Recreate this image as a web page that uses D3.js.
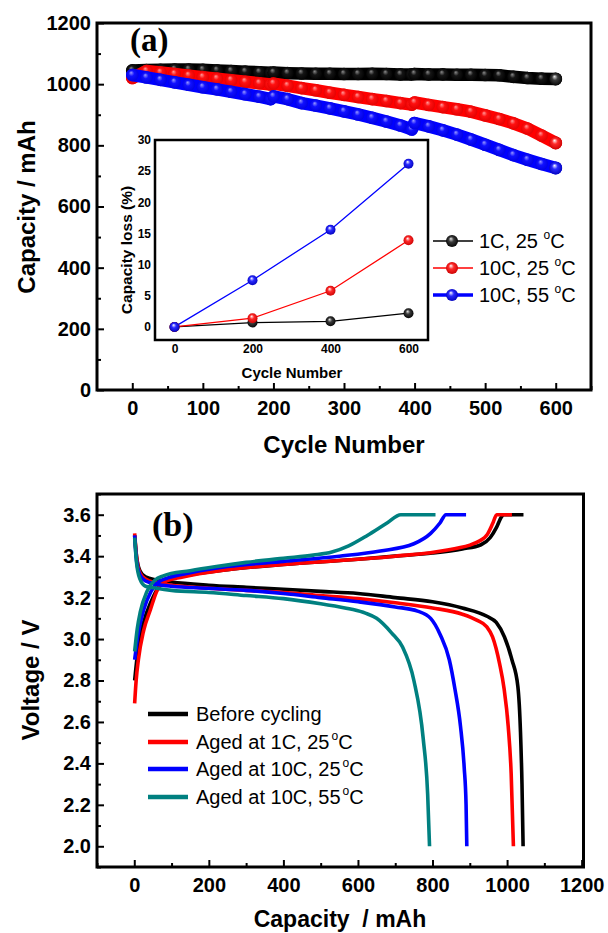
<!DOCTYPE html>
<html>
<head>
<meta charset="utf-8">
<script src="https://cdn.jsdelivr.net/npm/d3@7"></script>
<style>
  body { margin: 0; background: #fff; }
  svg { display: block; }
  text { font-family: Arial, "Liberation Sans", sans-serif; }
</style>
</head>
<body>
<div id="chart"></div>
<script>
// ---- panel (a) : capacity vs cycle number ----
var cycles = [0,20,40,60,80,100,120,140,160,180,196,200,220,240,260,280,300,320,340,360,380,396,400,420,440,460,480,500,520,540,560,580,600];
var cap1C25  = [1045,1046,1047,1048,1048,1047,1045,1043,1041,1039,1037,1038,1036,1035,1034,1034,1033,1033,1034,1033,1032,1032,1033,1032,1032,1031,1031,1030,1029,1024,1020,1018,1017];
var cap10C25 = [1020,1043,1038,1033,1028,1023,1018,1013,1008,1003,999,1002,995,987,980,972,965,958,951,945,938,933,940,932,925,918,910,898,886,872,855,832,808];
var cap10C55 = [1030,1022,1014,1006,998,990,983,975,967,959,951,960,951,938,930,921,911,901,890,878,865,852,873,862,849,835,819,802,785,768,753,739,726];

// inset : capacity loss (%)
var lossCycles = [0,200,400,600];
var loss1C25  = [0,0.7,0.9,2.2];
var loss10C25 = [0,1.4,5.8,13.9];
var loss10C55 = [0,7.5,15.6,26.2];

var legendA = ["1C, 25", "10C, 25", "10C, 55"];

// ---- panel (b) : voltage vs capacity, [capacity mAh, voltage V] ----
var chgBefore  = [[1,2.80],[10,2.95],[25,3.08],[45,3.18],[65,3.25],[90,3.285],[150,3.31],[250,3.335],[400,3.36],[600,3.385],[700,3.40],[800,3.415],[880,3.435],[930,3.455],[955,3.49],[972,3.54],[985,3.59],[992,3.60],[1044,3.60]];
var chgAged1C  = [[1,2.69],[5,2.80],[11,2.90],[25,3.04],[43,3.14],[60,3.23],[80,3.275],[130,3.30],[250,3.335],[400,3.36],[600,3.385],[700,3.40],[840,3.43],[910,3.46],[945,3.50],[962,3.56],[972,3.60],[1013,3.60]];
var chgAged10C25 = [[1,2.90],[10,3.02],[25,3.14],[45,3.23],[65,3.275],[90,3.295],[150,3.32],[250,3.35],[400,3.375],[550,3.40],[660,3.425],[750,3.46],[795,3.51],[820,3.56],[836,3.60],[890,3.60]];
var chgAged10C55 = [[1,2.94],[8,3.05],[16,3.13],[34,3.23],[56,3.285],[78,3.305],[150,3.33],[220,3.35],[300,3.37],[400,3.39],[480,3.405],[530,3.42],[575,3.45],[625,3.50],[678,3.56],[715,3.60],[808,3.60]];

var dchgBefore = [[1,3.50],[6,3.40],[15,3.33],[30,3.30],[60,3.285],[100,3.275],[200,3.26],[300,3.25],[400,3.24],[500,3.23],[600,3.22],[700,3.20],[800,3.18],[880,3.15],[946,3.11],[971,3.08],[993,3.01],[1013,2.90],[1029,2.77],[1036,2.55],[1040,2.30],[1043,2.00]];
var dchgAged1C = [[1,3.51],[6,3.40],[15,3.32],[30,3.29],[60,3.27],[100,3.26],[200,3.245],[300,3.235],[400,3.225],[500,3.21],[600,3.195],[700,3.175],[800,3.15],[880,3.12],[920,3.09],[945,3.06],[961,3.01],[980,2.88],[992,2.76],[1003,2.58],[1011,2.35],[1017,2.00]];
var dchgAged10C25 = [[1,3.50],[6,3.38],[15,3.31],[30,3.28],[60,3.265],[100,3.255],[200,3.245],[300,3.235],[400,3.22],[500,3.20],[600,3.18],[700,3.155],[760,3.135],[795,3.10],[821,3.02],[845,2.90],[860,2.76],[875,2.58],[885,2.38],[890,2.20],[892,2.00]];
var dchgAged10C55 = [[1,3.49],[6,3.37],[15,3.29],[30,3.255],[60,3.245],[100,3.235],[200,3.225],[300,3.21],[400,3.195],[500,3.17],[580,3.145],[620,3.125],[650,3.10],[690,3.03],[720,2.96],[750,2.80],[775,2.52],[787,2.25],[792,2.00]];

var legendB = ["Before cycling", "Aged at 1C, 25", "Aged at 10C, 25", "Aged at 10C, 55"];

var colA = ["#000000", "#ff0000", "#0000ff"];
var colB = ["#000000", "#ff0000", "#0000ff", "#008080"];

var svg = d3.select("#chart").append("svg")
  .attr("width", 608).attr("height", 933);

// sphere look for the markers (strong one for inset/legend, soft one for the dense bands)
var defs = svg.append("defs");
var balls = [
  ["bk", "#e8e8e8", "#3a3a3a", "#000"], ["rd", "#ffffff", "#ff2a2a", "#c80000"], ["bl", "#ffffff", "#2a2aff", "#0000b8"],
  ["bk-s", "#8a8a8a", "#151515", "#000"], ["rd-s", "#ff9a9a", "#ff1010", "#e00000"], ["bl-s", "#9a9aff", "#1010ff", "#0000e0"]
];
balls.forEach(function(b) {
  var g = defs.append("radialGradient").attr("id", "ball-" + b[0])
    .attr("cx", "50%").attr("cy", "50%").attr("r", "55%")
    .attr("fx", "40%").attr("fy", "30%");
  g.append("stop").attr("offset", "0%").attr("stop-color", b[1]);
  g.append("stop").attr("offset", "40%").attr("stop-color", b[2]);
  g.append("stop").attr("offset", "100%").attr("stop-color", b[3]);
});
var ballIds = ["ball-bk", "ball-rd", "ball-bl"];
var softIds = ["ball-bk-s", "ball-rd-s", "ball-bl-s"];

function styleAxis(g, size) {
  g.select(".domain").remove();
  g.selectAll("line").attr("stroke", "#000").attr("stroke-width", 2);
  g.selectAll("text").attr("font-size", size).attr("font-weight", "bold").attr("fill", "#000");
}

// ================= panel (a) =================
var xA = d3.scaleLinear().domain([-50, 650]).range([97, 591]);
var yA = d3.scaleLinear().domain([0, 1200]).range([390, 23]);

var gA = svg.append("g");

gA.append("g").attr("transform", "translate(0,390)")
  .call(d3.axisBottom(xA).tickValues(d3.range(50, 651, 100)).tickSizeInner(-4).tickSizeOuter(0).tickFormat(""))
  .call(styleAxis, 20);
gA.append("g").attr("transform", "translate(0,390)")
  .call(d3.axisBottom(xA).tickValues(d3.range(0, 601, 100)).tickSizeInner(-7).tickSizeOuter(0).tickPadding(11).tickFormat(d3.format("d")))
  .call(styleAxis, 20);
gA.append("g").attr("transform", "translate(97,0)")
  .call(d3.axisLeft(yA).tickValues(d3.range(100, 1200, 200)).tickSizeInner(-4).tickSizeOuter(0).tickFormat(""))
  .call(styleAxis, 20);
gA.append("g").attr("transform", "translate(97,0)")
  .call(d3.axisLeft(yA).tickValues(d3.range(0, 1201, 200)).tickSizeInner(-7).tickSizeOuter(0).tickPadding(6).tickFormat(d3.format("d")))
  .call(styleAxis, 20);

var seriesA = [cap1C25, cap10C25, cap10C55];
var bandLine = d3.line().x(function(d, i) { return xA(cycles[i]); }).y(function(d) { return yA(d); });
seriesA.forEach(function(s, k) {
  gA.append("path").datum(s)
    .attr("d", bandLine)
    .attr("fill", "none").attr("stroke", colA[k])
    .attr("stroke-width", 12.5).attr("stroke-linecap", "round").attr("stroke-linejoin", "round");
  gA.selectAll(".pt" + k).data(s).enter().append("circle")
    .attr("cx", function(d, i) { return xA(cycles[i]); })
    .attr("cy", function(d) { return yA(d); })
    .attr("r", 6.3)
    .attr("fill", "url(#" + softIds[k] + ")");
});
// last point of each series keeps the full sphere look
seriesA.forEach(function(s, k) {
  gA.append("circle").attr("cx", xA(cycles[cycles.length - 1])).attr("cy", yA(s[s.length - 1]))
    .attr("r", 6.5).attr("fill", "url(#" + ballIds[k] + ")");
});

gA.append("rect").attr("x", 97).attr("y", 23).attr("width", 494).attr("height", 367)
  .attr("fill", "none").attr("stroke", "#000").attr("stroke-width", 3);

gA.append("text").attr("x", 130).attr("y", 51)
  .style("font-family", "'Liberation Serif', 'Times New Roman', serif")
  .attr("font-size", 33).attr("font-weight", "bold").text("(a)");

gA.append("text").attr("x", 344).attr("y", 453).attr("text-anchor", "middle")
  .attr("font-size", 24).attr("font-weight", "bold").text("Cycle Number");
gA.append("text").attr("transform", "translate(35,207) rotate(-90)").attr("text-anchor", "middle")
  .attr("font-size", 24).attr("font-weight", "bold").text("Capacity / mAh");

// inset
var xI = d3.scaleLinear().domain([-50, 650]).range([155, 428]);
var yI = d3.scaleLinear().domain([-2.1, 30]).range([340, 140]);
var gI = svg.append("g");
gI.append("rect").attr("x", 155).attr("y", 140).attr("width", 273).attr("height", 200).attr("fill", "#fff");
gI.append("g").attr("transform", "translate(0,340)")
  .call(d3.axisBottom(xI).tickValues(lossCycles).tickSize(0).tickPadding(4))
  .call(styleAxis, 12);
gI.append("g").attr("transform", "translate(155,0)")
  .call(d3.axisLeft(yI).tickValues(d3.range(0, 31, 5)).tickSize(0).tickPadding(4))
  .call(styleAxis, 12);

var seriesI = [loss1C25, loss10C25, loss10C55];
var lossLine = d3.line().x(function(d, i) { return xI(lossCycles[i]); }).y(function(d) { return yI(d); });
seriesI.forEach(function(s, k) {
  gI.append("path").datum(s).attr("d", lossLine)
    .attr("fill", "none").attr("stroke", colA[k]).attr("stroke-width", 1.3);
});
seriesI.forEach(function(s, k) {
  gI.selectAll(".lp" + k).data(s).enter().append("circle")
    .attr("cx", function(d, i) { return xI(lossCycles[i]); })
    .attr("cy", function(d) { return yI(d); })
    .attr("r", 5).attr("fill", "url(#" + ballIds[k] + ")");
});
gI.append("rect").attr("x", 155).attr("y", 140).attr("width", 273).attr("height", 200)
  .attr("fill", "none").attr("stroke", "#000").attr("stroke-width", 2.5);
gI.append("text").attr("x", 292).attr("y", 378).attr("text-anchor", "middle")
  .attr("font-size", 15).attr("font-weight", "bold").text("Cycle Number");
gI.append("text").attr("transform", "translate(132,250) rotate(-90)").attr("text-anchor", "middle")
  .attr("font-size", 15.5).attr("font-weight", "bold").text("Capacity loss (%)");

// legend (a)
var legA = svg.append("g").selectAll("g").data(legendA).enter().append("g")
  .attr("transform", function(d, i) { return "translate(433," + [241, 268, 295][i] + ")"; });
legA.append("line").attr("x1", 0).attr("x2", 40)
  .attr("stroke", function(d, i) { return colA[i]; })
  .attr("stroke-width", function(d, i) { return i === 2 ? 3.5 : 1.3; });
legA.append("circle").attr("cx", 19).attr("r", 6)
  .attr("fill", function(d, i) { return "url(#" + ballIds[i] + ")"; });
var tA = legA.append("text").attr("x", 46).attr("y", 7).attr("font-size", 20);
tA.append("tspan").text(function(d) { return d + " "; });
tA.append("tspan").attr("font-size", 12).attr("dy", -9).text("o");
tA.append("tspan").attr("dy", 9).text("C");

// ================= panel (b) =================
var xB = d3.scaleLinear().domain([-100, 1205]).range([97, 583.5]);
var yB = d3.scaleLinear().domain([1.9, 3.7]).range([867, 494]);
var gB = svg.append("g");

gB.append("g").attr("transform", "translate(0,867)")
  .call(d3.axisBottom(xB).tickValues(d3.range(-100, 1201, 200)).tickSizeInner(-4).tickSizeOuter(0).tickFormat(""))
  .call(styleAxis, 20);
gB.append("g").attr("transform", "translate(0,867)")
  .call(d3.axisBottom(xB).tickValues(d3.range(0, 1201, 200)).tickSizeInner(-7).tickSizeOuter(0).tickPadding(11).tickFormat(d3.format("d")))
  .call(styleAxis, 20);
gB.append("g").attr("transform", "translate(97,0)")
  .call(d3.axisLeft(yB).tickValues(d3.range(1.9, 3.71, 0.2)).tickSizeInner(-4).tickSizeOuter(0).tickFormat(""))
  .call(styleAxis, 20);
gB.append("g").attr("transform", "translate(97,0)")
  .call(d3.axisLeft(yB).tickValues(d3.range(2.0, 3.61, 0.2)).tickSizeInner(-7).tickSizeOuter(0).tickPadding(6).tickFormat(d3.format(".1f")))
  .call(styleAxis, 20);

var vLine = d3.line().x(function(d) { return xB(d[0]); }).y(function(d) { return yB(d[1]); })
  .curve(d3.curveMonotoneX);
var curvesB = [[chgBefore, dchgBefore], [chgAged1C, dchgAged1C], [chgAged10C25, dchgAged10C25], [chgAged10C55, dchgAged10C55]];
curvesB.forEach(function(pair, k) {
  pair.forEach(function(c) {
    gB.append("path").datum(c).attr("d", vLine)
      .attr("fill", "none").attr("stroke", colB[k]).attr("stroke-width", 3.6)
      .attr("stroke-linejoin", "round");
  });
});

gB.append("rect").attr("x", 97).attr("y", 494).attr("width", 486.5).attr("height", 373)
  .attr("fill", "none").attr("stroke", "#000").attr("stroke-width", 3);

gB.append("text").attr("x", 152).attr("y", 536)
  .style("font-family", "'Liberation Serif', 'Times New Roman', serif")
  .attr("font-size", 34).attr("font-weight", "bold").text("(b)");

gB.append("text").attr("x", 340).attr("y", 927).attr("text-anchor", "middle")
  .attr("font-size", 23).attr("font-weight", "bold").text("Capacity \u00a0/ mAh");
gB.append("text").attr("transform", "translate(39,680) rotate(-90)").attr("text-anchor", "middle")
  .attr("font-size", 24).attr("font-weight", "bold").text("Voltage / V");

// legend (b)
var legB = svg.append("g").selectAll("g").data(legendB).enter().append("g")
  .attr("transform", function(d, i) { return "translate(148," + [714, 742, 769, 797][i] + ")"; });
legB.append("line").attr("x1", 0).attr("x2", 40)
  .attr("stroke", function(d, i) { return colB[i]; }).attr("stroke-width", 4.5);
var tB = legB.append("text").attr("x", 48).attr("y", 7).attr("font-size", 20);
tB.append("tspan").text(function(d) { return d; });
tB.filter(function(d, i) { return i > 0; }).append("tspan").attr("font-size", 12).attr("dx", 2).attr("dy", -9).text("o");
tB.filter(function(d, i) { return i > 0; }).append("tspan").attr("dy", 9).text("C");
</script>
</body>
</html>
